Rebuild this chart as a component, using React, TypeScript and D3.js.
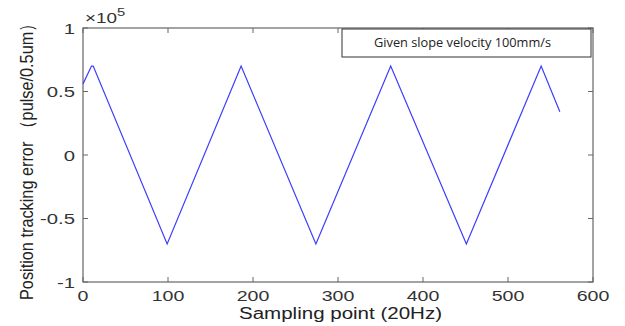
import React from "react";
import * as d3 from "d3";

const samplePoints = [0, 10, 12, 99, 186, 274, 362, 451, 539, 561];
const trackingError = [56000, 70000, 70000, -70000, 70000, -70000, 70000, -70000, 70000, 34000];
const xTicks = [0, 100, 200, 300, 400, 500, 600];
const yTicks = [-1, -0.5, 0, 0.5, 1];
const legendText = "Given slope velocity 100mm/s";

export default function App() {
  const W = 625, H = 326;
  const left = 83, right = 593, top = 28, bottom = 282;
  const x = d3.scaleLinear().domain([0, 600]).range([left, right]);
  const y = d3.scaleLinear().domain([-1, 1]).range([bottom, top]);
  const line = d3
    .line<number>()
    .x((_, i) => x(samplePoints[i]))
    .y((d) => y(d / 1e5));
  const axisColor = "#666";
  const tl = 5;
  const font = "Liberation Sans, Arial, sans-serif";
  const sx = 1.4;
  return (
    <svg width={W} height={H} style={{ position: "absolute", left: 0, top: 0, background: "#fff" }}>
      <rect x={left} y={top} width={right - left} height={bottom - top} fill="none" stroke={axisColor} strokeWidth={1.2} />
      {xTicks.map((t) => (
        <g key={"x" + t}>
          <line x1={x(t)} x2={x(t)} y1={bottom} y2={bottom - tl} stroke={axisColor} />
          <line x1={x(t)} x2={x(t)} y1={top} y2={top + tl} stroke={axisColor} />
          <text
            transform={`translate(${x(t)},301) scale(${sx},1)`}
            textAnchor="middle"
            fontFamily={font}
            fontSize={14}
            fill="#333"
          >
            {t}
          </text>
        </g>
      ))}
      {yTicks.map((t) => (
        <g key={"y" + t}>
          <line x1={left} x2={left + tl} y1={y(t)} y2={y(t)} stroke={axisColor} />
          <line x1={right} x2={right - tl} y1={y(t)} y2={y(t)} stroke={axisColor} />
          <text
            transform={`translate(75,${y(t) + 5.5}) scale(${sx},1)`}
            textAnchor="end"
            fontFamily={font}
            fontSize={14.5}
            fill="#333"
          >
            {t}
          </text>
        </g>
      ))}
      <text transform={`translate(85,23) scale(1.35,1)`} fontFamily={font} fontSize={14} fill="#333">
        ×10<tspan dy={-7} fontSize={11}>5</tspan>
      </text>
      <path d={line(trackingError) || ""} fill="none" stroke="#3c3cff" strokeWidth={1.2} />
      <rect x={342} y={29} width={249} height={28} fill="#fff" stroke="#333" strokeWidth={1} />
      <text
        x={374}
        y={47}
        textLength={177}
        lengthAdjust="spacingAndGlyphs"
        fontFamily="Open Sans, sans-serif"
        fontSize={12.5}
        fill="#222"
      >
        {legendText}
      </text>
      <text
        x={239}
        y={319}
        textLength={203}
        lengthAdjust="spacingAndGlyphs"
        fontFamily={font}
        fontSize={16}
        fill="#222"
      >
        Sampling point (20Hz)
      </text>
      <text
        transform={`translate(33,300) rotate(-90)`}
        textLength={285}
        lengthAdjust="spacingAndGlyphs"
        fontFamily={font}
        fontSize={18.5}
        fill="#222"
      >
        Position tracking error （pulse/0.5um）
      </text>
    </svg>
  );
}
